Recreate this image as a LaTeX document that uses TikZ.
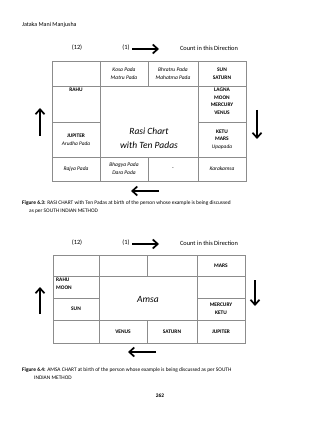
\documentclass[tikz,border=0pt]{standalone}
\usepackage{fontspec}
\setmainfont{Carlito}
\usetikzlibrary{arrows.meta}
\tikzset{
  gridline/.style={draw=black!45, line width=0.5pt},
  celltxt/.style={font=\fontsize{5.4}{7.8}\selectfont, align=center, inner sep=0pt},
  cellb/.style={celltxt, font=\fontsize{5.4}{7.8}\selectfont\bfseries},
  celli/.style={celltxt, font=\fontsize{5.5}{8}\selectfont\itshape},
  bigtxt/.style={font=\fontsize{9.5}{13.5}\selectfont\itshape, align=center, inner sep=0pt},
  hdr/.style={font=\fontsize{6.4}{7}\selectfont, inner sep=0pt},
  captxt/.style={font=\fontsize{5.4}{8.5}\selectfont, inner sep=0pt, anchor=north west, align=left},
  dirarrow/.style={line width=1.7pt, -{Straight Barb[length=5pt,width=9pt,line width=1.7pt]}},
}
\begin{document}
\begin{tikzpicture}[x=1pt,y=-1pt]
\useasboundingbox (0,0) rectangle (320,422);
\fill[white] (0,0) rectangle (320,422);

\node[hdr, anchor=west, font=\fontsize{6}{7}\selectfont] (book) at (22,25) {Jataka Mani Manjusha};

% ---------- Chart 1 header ----------
\node[hdr] (twelveA) at (77,48) {(12)};
\node[hdr] (oneA) at (126,48) {(1)};
\coordinate (raS) at (132,49);
\coordinate (raE) at (159,49);
\draw[dirarrow] (raS) -- (raE);
\node[hdr] (countA) at (209,48) {Count in this Direction};

% ---------- Chart 1 grid ----------
\draw[gridline] (52,61) rectangle (246,181);
\draw[gridline] (52,86) -- (246,86);
\draw[gridline] (52,157) -- (246,157);
\draw[gridline] (52,122) -- (100,122);
\draw[gridline] (198,122) -- (246,122);
\draw[gridline] (100,61) -- (100,181);
\draw[gridline] (198,61) -- (198,181);
\draw[gridline] (148,61) -- (148,86);
\draw[gridline] (148,157) -- (148,181);

\node[celli] (kosa) at (124,73.5) {Kosa Pada\\Matru Pada};
\node[celli] (bhratru) at (173,73.5) {Bhratru Pada\\Mahatma Pada};
\node[cellb] (sunsat) at (222,73.5) {SUN\\SATURN};
\node[cellb, anchor=north] (rahuA) at (76,88) {RAHU};
\node[cellb, anchor=north] (lagna) at (222,87.5) {LAGNA\\MOON\\MERCURY\\VENUS};
\node[bigtxt] (rasi) at (149,138) {Rasi Chart\\with Ten Padas};
\node[celltxt] (jup) at (76,140) {\textbf{JUPITER}\\\textit{Arudha Pada}};
\node[celltxt] (ketu) at (222,139.5) {\textbf{KETU}\\\textbf{MARS}\\\textit{Upapada}};
\node[celli] (rajya) at (76,169) {Rajya Pada};
\node[celli] (bhagya) at (124,169) {Bhagya Pada\\Dara Pada};
\node[celltxt] (dash) at (173,169) {-};
\node[celli] (karaka) at (222,169) {Karakamsa};

\coordinate (luS) at (40,136);
\coordinate (luE) at (40,108);
\draw[dirarrow] (luS) -- (luE);
\coordinate (rdS) at (257,110);
\coordinate (rdE) at (257,139);
\draw[dirarrow] (rdS) -- (rdE);
\coordinate (blS) at (159,191);
\coordinate (blE) at (131,191);
\draw[dirarrow] (blS) -- (blE);

\node[captxt] (capA) at (22,200.5) {\textbf{Figure 6.3:} RASI CHART with Ten Padas at birth of the person whose example is being discussed\\\hspace*{7pt}as per SOUTH INDIAN METHOD};

% ---------- Chart 2 header ----------
\node[hdr] (twelveB) at (77,243) {(12)};
\node[hdr] (oneB) at (126,243) {(1)};
\coordinate (rbS) at (132,244);
\coordinate (rbE) at (159,244);
\draw[dirarrow] (rbS) -- (rbE);
\node[hdr] (countB) at (209,243) {Count in this Direction};

% ---------- Chart 2 grid ----------
\draw[gridline] (53,255) rectangle (245,343);
\draw[gridline] (53,276) -- (245,276);
\draw[gridline] (53,320) -- (245,320);
\draw[gridline] (53,298) -- (99,298);
\draw[gridline] (197,298) -- (245,298);
\draw[gridline] (99,255) -- (99,343);
\draw[gridline] (197,255) -- (197,343);
\draw[gridline] (147,255) -- (147,276);
\draw[gridline] (147,320) -- (147,343);

\node[cellb] (mars) at (221,265.5) {MARS};
\node[cellb, anchor=north west, align=left] (rahuB) at (56,277.5) {RAHU\\MOON};
\node[bigtxt] (amsa) at (148,299) {Amsa};
\node[cellb] (sunB) at (76,309) {SUN};
\node[cellb] (merc) at (221,309) {MERCURY\\KETU};
\node[cellb] (venus) at (123,331.5) {VENUS};
\node[cellb] (saturn) at (172,331.5) {SATURN};
\node[cellb] (jupB) at (221,331.5) {JUPITER};

\coordinate (luS2) at (40,314);
\coordinate (luE2) at (40,287);
\draw[dirarrow] (luS2) -- (luE2);
\coordinate (rdS2) at (255,280);
\coordinate (rdE2) at (255,306);
\draw[dirarrow] (rdS2) -- (rdE2);
\coordinate (blS2) at (156,352);
\coordinate (blE2) at (128,352);
\draw[dirarrow] (blS2) -- (blE2);

\node[captxt] (capB) at (22,367.5) {\textbf{Figure 6.4:} AMSA CHART at birth of the person whose example is being discussed as per SOUTH\\\hspace*{12pt}INDIAN METHOD};

\node[font=\fontsize{5.4}{6}\selectfont\bfseries, inner sep=0pt] (page) at (160,396) {262};
\end{tikzpicture}
\end{document}
